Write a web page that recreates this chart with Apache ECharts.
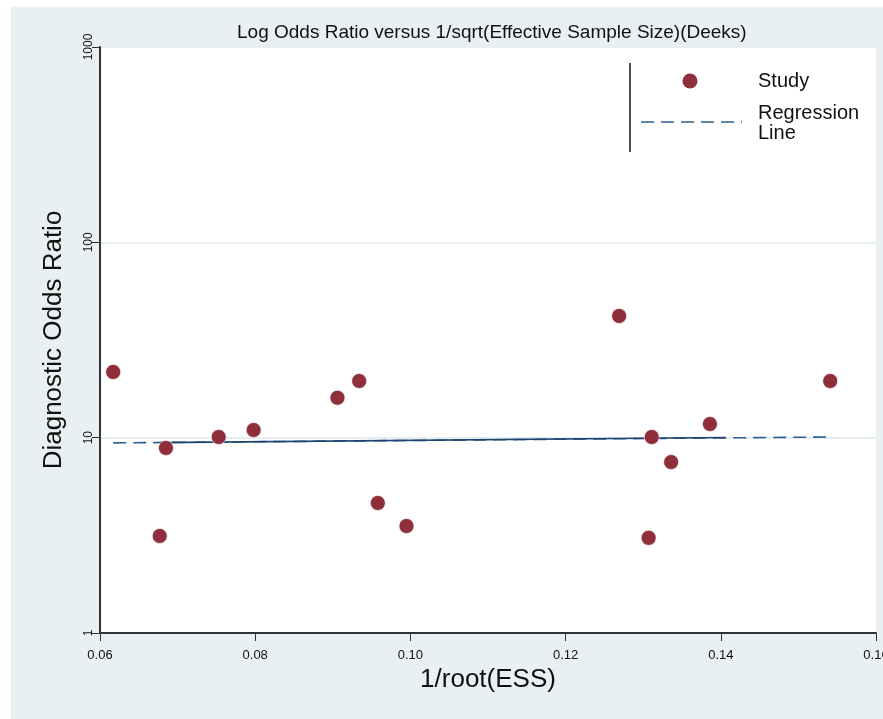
<!DOCTYPE html>
<html>
<head>
<meta charset="utf-8">
<script src="https://cdn.jsdelivr.net/npm/echarts@6/dist/echarts.min.js"></script>
<style>
html,body{margin:0;padding:0;background:#ffffff;overflow:hidden;}
#chart{position:absolute;left:11px;top:7px;width:872px;height:712px;}
</style>
</head>
<body>
<div id="chart"></div>
<script>
// Study points: x = 1/root(ESS), y = diagnostic odds ratio
const studyX = [0.0617, 0.0677, 0.0685, 0.0753, 0.0798, 0.0906, 0.0934, 0.0958, 0.0995, 0.1269, 0.1307, 0.1311, 0.1336, 0.1386, 0.1541];
const studyY = [21.7, 3.14, 8.86, 10.08, 10.95, 16.0, 19.5, 4.63, 3.53, 42.0, 3.07, 10.08, 7.5, 11.75, 19.5];
// Regression line endpoints (dashed) and its solid-looking middle part
const regX = [0.0617, 0.1545];
const regY = [9.40, 10.08];
const regSolidX = [0.0677, 0.1406];
const regSolidY = [9.43, 10.02];
// Axis ticks
const xTicks = [0.06, 0.08, 0.10, 0.12, 0.14, 0.16];
const yTicks = [1, 10, 100, 1000];

const title = 'Log Odds Ratio versus 1/sqrt(Effective Sample Size)(Deeks)';
const font = '"Liberation Sans", Arial, sans-serif';

const chart = echarts.init(document.getElementById('chart'));
const GRID = {left: 89, top: 40, right: 7, bottom: 86};

chart.setOption({
  backgroundColor: '#e8f0f2',
  animation: false,
  title: {
    text: title, left: 221, top: 11,
    textStyle: {fontFamily: font, fontSize: 19, fontWeight: 'normal', color: '#111'}
  },
  grid: Object.assign({show: true, backgroundColor: '#ffffff', borderWidth: 0, containLabel: false, outerBoundsMode: 'none'}, GRID),
  xAxis: {
    type: 'value', min: xTicks[0], max: xTicks[xTicks.length - 1], interval: 0.02,
    name: '1/root(ESS)', nameLocation: 'middle', nameGap: 31,
    nameTextStyle: {fontFamily: font, fontSize: 26, color: '#111'},
    axisLine: {show: true, onZero: false, lineStyle: {color: '#333', width: 2}},
    axisTick: {show: true, inside: false, length: 8, lineStyle: {color: '#333', width: 1}},
    axisLabel: {fontFamily: font, fontSize: 13, color: '#111', margin: 16,
      formatter: v => v.toFixed(2)},
    splitLine: {show: false}
  },
  yAxis: {
    type: 'log', logBase: 10, min: yTicks[0], max: yTicks[yTicks.length - 1],
    name: 'Diagnostic Odds Ratio', nameLocation: 'middle', nameGap: 33,
    nameTextStyle: {fontFamily: font, fontSize: 26, color: '#111'},
    axisLine: {show: true, onZero: false, lineStyle: {color: '#333', width: 2}},
    axisTick: {show: true, inside: false, length: 8, lineStyle: {color: '#333', width: 1}},
    axisLabel: {fontFamily: font, fontSize: 12, color: '#111', rotate: 90, margin: 5,
      formatter: v => String(Math.round(v))},
    splitLine: {show: true, lineStyle: {color: '#e6eef0', width: 2}},
    minorTick: {show: false}
  },
  series: [
    {
      name: 'Regression Line', type: 'line', symbol: 'none', z: 2,
      data: regX.map((x, i) => [x, regY[i]]),
      lineStyle: {color: '#2d5d8e', width: 1.6, type: [13, 7]}
    },
    {
      name: 'Regression Line (solid)', type: 'line', symbol: 'none', z: 2,
      data: regSolidX.map((x, i) => [x, regSolidY[i]]),
      lineStyle: {color: '#1c4570', width: 1.6, type: 'solid'}
    },
    {
      name: 'Study', type: 'scatter', symbol: 'circle', symbolSize: 15, z: 3,
      data: studyX.map((x, i) => [x, studyY[i]]),
      itemStyle: {color: '#8e2f3b', opacity: 1, borderColor: '#ffffff', borderWidth: 0.6}
    }
  ],
  graphic: [
    {type: 'line', shape: {x1: 619, y1: 56, x2: 619, y2: 145}, style: {stroke: '#111', lineWidth: 1.5}},
    {type: 'circle', shape: {cx: 679, cy: 74, r: 7.5}, style: {fill: '#8e2f3b'}},
    {type: 'text', x: 747, y: 74, style: {text: 'Study', font: '20px "Liberation Sans", Arial, sans-serif', fill: '#111', verticalAlign: 'middle'}},
    {type: 'line', shape: {x1: 630, y1: 115, x2: 731, y2: 115}, style: {stroke: '#2d5d8e', lineWidth: 1.4, lineDash: [13, 7]}},
    {type: 'text', x: 747, y: 116, style: {text: 'Regression\nLine', font: '20px "Liberation Sans", Arial, sans-serif', fill: '#111', verticalAlign: 'middle', lineHeight: 20}}
  ]
});
</script>
</body>
</html>
